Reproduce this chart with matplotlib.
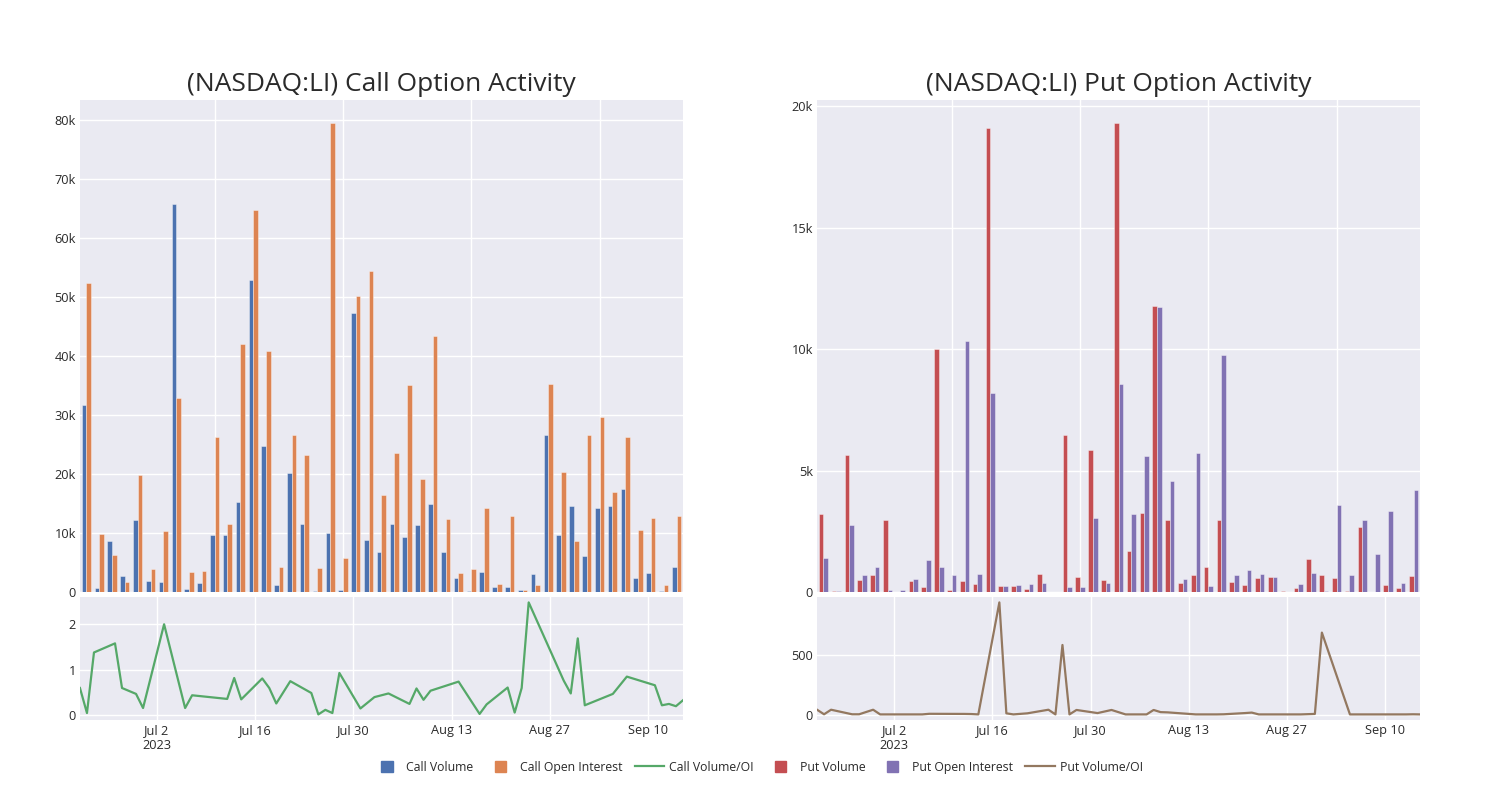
import numpy as np
import pandas as pd
import matplotlib
matplotlib.use("Agg")
import matplotlib.pyplot as plt
from matplotlib.ticker import FuncFormatter
from matplotlib.patches import Patch, Rectangle
from matplotlib.lines import Line2D
from matplotlib.legend_handler import HandlerPatch

plt.rcParams['font.family'] = ['Open Sans', 'DejaVu Sans']

# trading days shown in the chart
dates = ['2023-06-21', '2023-06-22', '2023-06-23', '2023-06-26', '2023-06-27', '2023-06-29',
         '2023-06-30', '2023-07-03', '2023-07-06', '2023-07-07', '2023-07-12', '2023-07-13',
         '2023-07-14', '2023-07-17', '2023-07-18', '2023-07-19', '2023-07-21', '2023-07-24',
         '2023-07-25', '2023-07-26', '2023-07-27', '2023-07-28', '2023-07-31', '2023-08-02',
         '2023-08-04', '2023-08-07', '2023-08-08', '2023-08-09', '2023-08-10', '2023-08-14',
         '2023-08-17', '2023-08-18', '2023-08-21', '2023-08-22', '2023-08-23', '2023-08-24',
         '2023-08-29', '2023-08-30', '2023-08-31', '2023-09-01', '2023-09-05', '2023-09-07',
         '2023-09-11', '2023-09-12', '2023-09-13', '2023-09-14', '2023-09-15']

call_volume = [31700, 600, 8600, 2700, 12150, 1930, 1760, 65700, 570, 1600,
               9700, 9700, 15200, 52900, 24800, 1140, 20200, 11500, 100, 10000,
               350, 47300, 8750, 6760, 11500, 9400, 11350, 14900, 6760, 2400,
               170, 3460, 800, 800, 300, 3000, 26600, 9650, 14500, 6100,
               14200, 14500, 17500, 2400, 3200, 200, 4260]
call_oi = [52400, 9800, 6200, 1650, 19900, 3970, 10400, 32800, 3460, 3580,
           26200, 11600, 42000, 64700, 40900, 4260, 26600, 23200, 4150, 79400,
           5700, 50200, 54400, 16500, 23500, 35000, 19100, 43350, 12300, 3240,
           3900, 14200, 1300, 12800, 400, 1200, 35200, 20400, 8600, 26600,
           29700, 17000, 26300, 10550, 12500, 1250, 12900]
call_ratio = [0.60, 0.05, 1.38, 1.58, 0.60, 0.47, 0.16, 2.00, 0.16, 0.44,
              0.36, 0.82, 0.35, 0.81, 0.60, 0.26, 0.75, 0.49, 0.02, 0.12,
              0.05, 0.93, 0.15, 0.40, 0.48, 0.25, 0.59, 0.34, 0.54, 0.74,
              0.03, 0.24, 0.61, 0.06, 0.60, 2.48, 0.76, 0.48, 1.69, 0.22,
              0.47, 0.85, 0.66, 0.22, 0.25, 0.20, 0.33]

put_volume = [3200, 60, 5640, 480, 680, 2980, 10, 470, 210, 9990,
              80, 470, 330, 19100, 250, 260, 140, 750, 20, 6470,
              610, 5850, 500, 19300, 1680, 3270, 11790, 2950, 370, 720,
              1020, 2980, 430, 300, 580, 620, 30, 150, 1370, 720,
              580, 40, 2680, 0, 290, 180, 660]
put_oi = [1410, 30, 2770, 700, 1050, 70, 100, 530, 1300, 1020,
          690, 10350, 760, 8190, 240, 270, 330, 390, 5, 190,
          200, 3060, 390, 8580, 3230, 5590, 11720, 4580, 540, 5710,
          240, 9780, 720, 910, 760, 600, 10, 350, 770, 40,
          3590, 690, 2970, 1550, 3350, 370, 4200]
put_ratio = [40, 2, 40, 2, 2, 40, 1, 1, 1, 6,
             5, 4, 1, 935, 10, 1, 10, 40, 1, 580,
             1, 38, 12, 38, 1, 1, 38, 20, 18, 1,
             1, 2, 12, 16, 1, 1, 1, 3, 5, 683,
             1, 1, 1, 1, 1, 2, 1]

date_ticks = ['2023-07-02', '2023-07-16', '2023-07-30', '2023-08-13', '2023-08-27', '2023-09-10']
date_tick_labels = ['Jul 2\n2023', 'Jul 16', 'Jul 30', 'Aug 13', 'Aug 27', 'Sep 10']

BG = '#eaeaf2'
TXT = '#2a2a2a'
colors = {
    'call_vol': '#4c72b0', 'call_oi': '#dd8452', 'call_ratio': '#55a868',
    'put_vol': '#c44e52', 'put_oi': '#8172b3', 'put_ratio': '#937860',
}


def k_fmt(v, _):
    if v == 0:
        return '0'
    return f'{v / 1000:g}k'


def square_patch(legend, orig_handle, xdescent, ydescent, width, height, fontsize):
    # small square centred in the handle box, like the plotly legend
    s = 0.95 * fontsize
    return Rectangle((-xdescent + (width - s) / 2, -ydescent + (height - s) / 2), s, s)


def style_ax(ax):
    ax.set_facecolor(BG)
    for s in ax.spines.values():
        s.set_visible(False)
    ax.grid(True, color='white', linewidth=1.0)
    ax.set_axisbelow(True)
    ax.tick_params(length=0, labelsize=9.2, colors=TXT, pad=3)


def draw_side(fig, left, title, vol, oi, ratio, c_vol, c_oi, c_ratio, yticks, rticks):
    ax_bar = fig.add_axes([left, 0.26, 0.402, 0.615])
    ax_line = fig.add_axes([left, 0.10, 0.402, 0.154])
    style_ax(ax_bar)
    style_ax(ax_line)

    x = np.arange(len(vol))
    w = 0.36
    ax_bar.bar(x - w / 2, vol, width=w, color=c_vol, edgecolor=(1, 1, 1, 0.45), linewidth=0.6)
    ax_bar.bar(x + w / 2, oi, width=w, color=c_oi, edgecolor=(1, 1, 1, 0.45), linewidth=0.6)
    ax_bar.set_xlim(-0.5, len(vol) - 0.5)
    ax_bar.set_ylim(0, max(max(vol), max(oi)) * 1.05)
    ax_bar.set_xticks([10, 20, 30, 40])
    ax_bar.set_xticklabels([])
    ax_bar.set_yticks(yticks)
    ax_bar.yaxis.set_major_formatter(FuncFormatter(k_fmt))

    d = pd.to_datetime(dates)
    ax_line.plot(d, ratio, color=c_ratio, linewidth=1.6)
    ax_line.set_xlim(d[0], d[-1])
    ax_line.set_xticks(pd.to_datetime(date_ticks))
    ax_line.set_xticklabels(date_tick_labels)
    ax_line.set_yticks(rticks)
    ax_line.margins(y=0.05)

    fig.text(left + 0.201, 0.894, title, ha='center', va='center', fontsize=19, color=TXT)


fig = plt.figure(figsize=(15, 8), dpi=100)

draw_side(fig, 0.0533, '(NASDAQ:LI) Call Option Activity', call_volume, call_oi, call_ratio,
          colors['call_vol'], colors['call_oi'], colors['call_ratio'],
          np.arange(0, 80001, 10000), [0, 1, 2])
draw_side(fig, 0.5447, '(NASDAQ:LI) Put Option Activity', put_volume, put_oi, put_ratio,
          colors['put_vol'], colors['put_oi'], colors['put_ratio'],
          np.arange(0, 20001, 5000), [0, 500])

handles = [
    Patch(color=colors['call_vol'], label='Call Volume'),
    Patch(color=colors['call_oi'], label='Call Open Interest'),
    Line2D([], [], color=colors['call_ratio'], linewidth=1.6, label='Call Volume/OI'),
    Patch(color=colors['put_vol'], label='Put Volume'),
    Patch(color=colors['put_oi'], label='Put Open Interest'),
    Line2D([], [], color=colors['put_ratio'], linewidth=1.6, label='Put Volume/OI'),
]
fig.legend(handles=handles, loc='center', bbox_to_anchor=(0.505, 0.041), ncol=6, frameon=False,
           fontsize=8.8, handlelength=2.4, handletextpad=0.4, columnspacing=1.0, labelcolor=TXT,
           handler_map={Patch: HandlerPatch(patch_func=square_patch)})

fig.savefig('out.png', dpi=100, facecolor='white')
